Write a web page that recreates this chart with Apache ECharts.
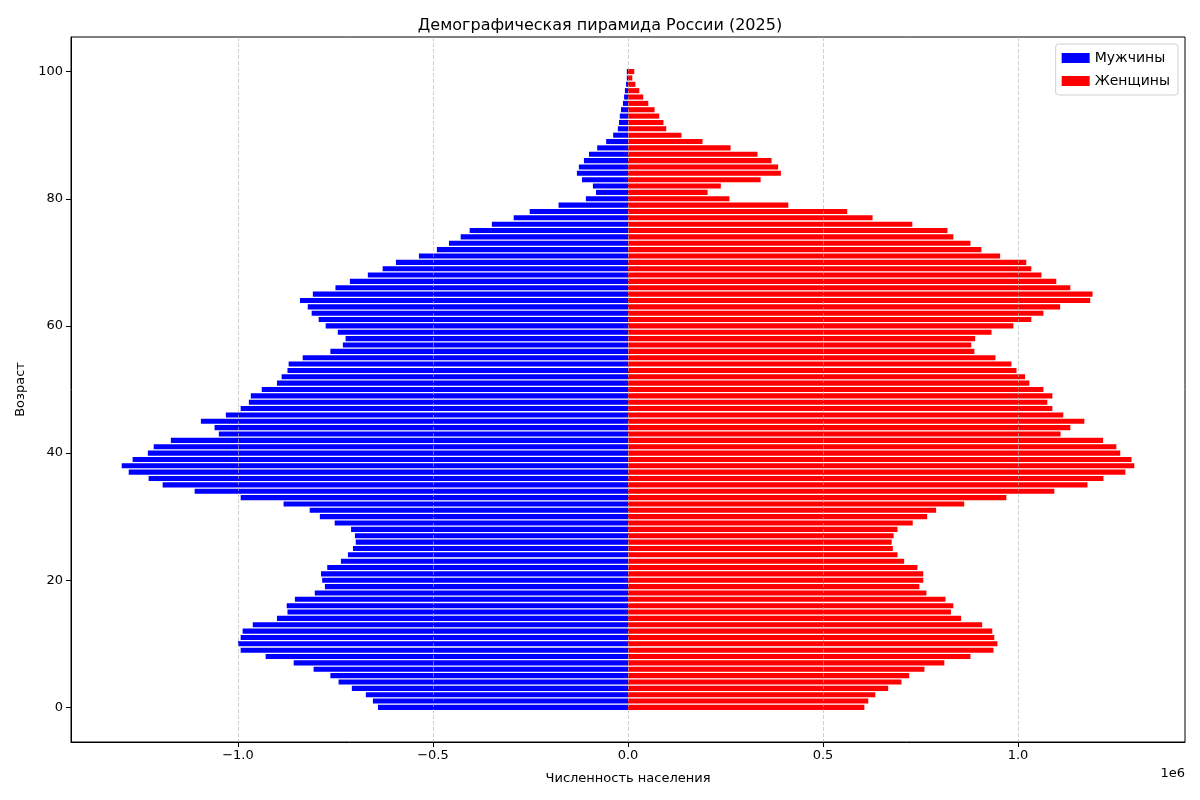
<!DOCTYPE html>
<html>
<head>
<meta charset="utf-8">
<script src="https://cdn.jsdelivr.net/npm/echarts@6/dist/echarts.min.js"></script>
<style>
    html, body { margin: 0; padding: 0; background: #fff; }
    #chart { width: 1200px; height: 800px; }
</style>
</head>
<body>
<div id="chart"></div>
<script>
// возраст 0..100
var ages = Array.from({ length: 101 }, function (_, i) { return i; });

// мужчины, тыс. человек (по возрастам 0..100)
var men = [
    641, 654, 672, 708, 742, 763, 806, 857, 929, 993,
    1000, 993, 988, 962, 900, 873, 875, 854, 803, 777,
    784, 787, 771, 736, 718, 705, 698, 700, 710, 752,
    790, 816, 883, 993, 1111, 1193, 1229, 1280, 1298, 1270,
    1231, 1216, 1172, 1049, 1060, 1095, 1031, 993, 972, 967,
    939, 900, 888, 873, 870, 834, 763, 731, 724, 744,
    775, 793, 811, 821, 841, 808, 750, 713, 667, 629,
    595, 536, 490, 459, 429, 406, 349, 293, 252, 178,
    108, 82, 90, 118, 131, 126, 113, 100, 79, 56,
    38, 26, 23, 21, 18, 13, 10, 8, 5, 3,
    3
];

// женщины, тыс. человек
var women = [
    606, 616, 634, 667, 701, 721, 760, 811, 878, 937,
    947, 939, 934, 908, 854, 828, 834, 814, 765, 747,
    757, 757, 742, 708, 691, 679, 676, 681, 691, 730,
    767, 790, 862, 970, 1093, 1178, 1219, 1275, 1298, 1291,
    1262, 1252, 1218, 1109, 1134, 1170, 1116, 1088, 1075, 1088,
    1065, 1029, 1018, 996, 983, 942, 888, 880, 890, 932,
    988, 1034, 1065, 1108, 1185, 1191, 1134, 1098, 1060, 1034,
    1021, 954, 906, 878, 834, 819, 729, 627, 562, 411,
    260, 204, 238, 340, 392, 385, 368, 332, 263, 191,
    137, 98, 91, 80, 68, 52, 39, 29, 19, 11,
    16
];

var seriesNames = ['Мужчины', 'Женщины'];

var box = document.getElementById('chart');
var myChart = echarts.init(box);

var menData = [], womenData = [];
ages.forEach(function (a, i) {
    menData.push([-men[i] * 1000, a]);
    womenData.push([women[i] * 1000, a]);
});

// горизонтальный бар на числовой оси Y
var renderBar = function (params, api) {
    var v = api.value(0), age = api.value(1);
    var p0 = api.coord([0, age]);
    var p1 = api.coord([v, age]);
    var h = api.size([0, 0.8])[1];
    return {
        type: 'rect',
        shape: {
            x: Math.min(p0[0], p1[0]),
            y: p0[1] - h / 2,
            width: Math.abs(p1[0] - p0[0]),
            height: h
        },
        style: api.style()
    };
};

var font = 'DejaVu Sans';

var option = {
    animation: false,
    textStyle: { fontFamily: font, color: '#000' },
    title: {
        text: 'Демографическая пирамида России (2025)',
        left: 'center',
        top: 13,
        textStyle: { fontFamily: font, fontSize: 16, fontWeight: 'normal', color: '#000' }
    },
    legend: {
        data: seriesNames,
        orient: 'vertical',
        right: 22,
        top: 44,
        icon: 'rect',
        itemWidth: 28,
        itemHeight: 10,
        itemGap: 9,
        padding: [7, 8, 7, 6],
        backgroundColor: '#fff',
        borderColor: '#d0d0d0',
        borderWidth: 1,
        borderRadius: 3,
        textStyle: { fontFamily: font, fontSize: 14, color: '#000' }
    },
    grid: {
        left: 71,
        right: 15,
        top: 37,
        bottom: 58,
        show: true,
        borderColor: '#000',
        borderWidth: 1
    },
    xAxis: {
        type: 'value',
        min: -1428000,
        max: 1428000,
        z: 10,
        name: 'Численность населения',
        nameLocation: 'middle',
        nameGap: 30,
        nameTextStyle: { fontFamily: font, fontSize: 13, color: '#000' },
        axisLine: { show: true, onZero: false, lineStyle: { color: '#000' } },
        axisTick: { show: true, length: 5, lineStyle: { color: '#000' } },
        axisLabel: {
            fontFamily: font,
            fontSize: 13,
            color: '#000',
            margin: 7,
            showMinLabel: false,
            showMaxLabel: false,
            formatter: function (v) {
                return (v / 1e6).toFixed(1).replace('-', '\u2212');
            }
        },
        splitLine: {
            show: true,
            showMinLine: false,
            showMaxLine: false,
            lineStyle: { color: 'rgba(176,176,176,0.75)', type: [4, 2], width: 0.8 }
        }
    },
    yAxis: {
        type: 'value',
        min: -5.44,
        max: 105.44,
        z: 11,
        name: 'Возраст',
        nameLocation: 'middle',
        nameGap: 44,
        nameTextStyle: { fontFamily: font, fontSize: 13, color: '#000' },
        axisLine: { show: true, onZero: false, lineStyle: { color: '#000' } },
        axisTick: { show: true, length: 5, lineStyle: { color: '#000' } },
        axisLabel: {
            fontFamily: font,
            fontSize: 13,
            color: '#000',
            margin: 8,
            showMinLabel: false,
            showMaxLabel: false
        },
        splitLine: { show: false }
    },
    graphic: [{
        type: 'text',
        right: 15,
        top: 767,
        style: { text: '1e6', fontFamily: font, fontSize: 13, fill: '#000' }
    }],
    series: [{
        name: seriesNames[0],
        type: 'custom',
        renderItem: renderBar,
        encode: { x: 0, y: 1 },
        itemStyle: { color: '#0000ff' },
        data: menData
    }, {
        name: seriesNames[1],
        type: 'custom',
        renderItem: renderBar,
        encode: { x: 0, y: 1 },
        itemStyle: { color: '#ff0000' },
        data: womenData
    }]
};
myChart.setOption(option);
</script>
</body>
</html>
